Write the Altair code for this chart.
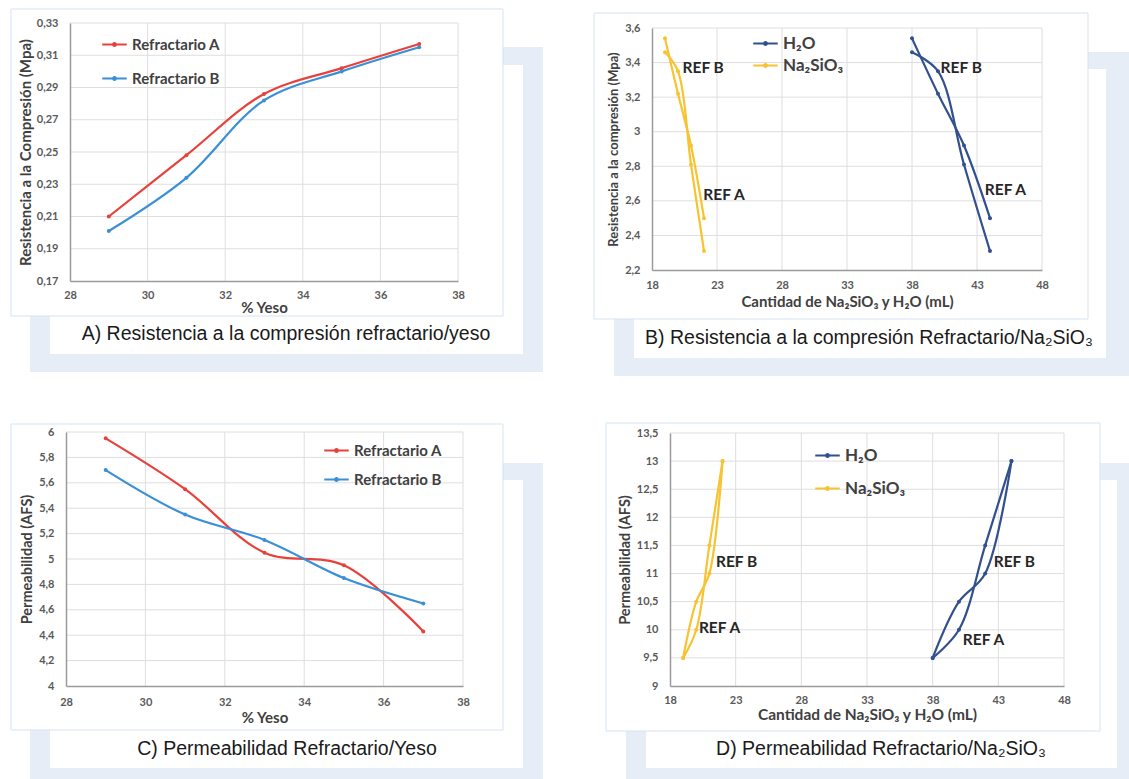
import altair as alt
import pandas as pd

# ---------------- values ----------------
yeso_pct = [29, 31, 33, 35, 37]
comp_refr_A = [0.210, 0.248, 0.286, 0.302, 0.317]
comp_refr_B = [0.201, 0.234, 0.282, 0.300, 0.315]
perm_refr_A = [5.95, 5.55, 5.05, 4.95, 4.43]
perm_refr_B = [5.70, 5.35, 5.15, 4.85, 4.65]

h2o_ml = [38, 40, 42, 44]
na2sio3_ml = [19, 20, 21, 22]
comp_REF_A = [3.54, 3.22, 2.92, 2.50]
comp_REF_B = [3.46, 3.35, 2.81, 2.31]
perm_REF_A = [9.5, 10.0, 11.5, 13.0]
perm_REF_B = [9.5, 10.5, 11.0, 13.0]

refr_series = ["Refractario A", "Refractario B"]
liquid_series = ["H₂O", "Na₂SiO₃"]
ref_names = ["REF A", "REF B"]

yeso_ticks = [28, 30, 32, 34, 36, 38]
ml_ticks = [18, 23, 28, 33, 38, 43, 48]
comp_yeso_ticks = [0.17, 0.19, 0.21, 0.23, 0.25, 0.27, 0.29, 0.31, 0.33]
comp_ml_ticks = [2.2, 2.4, 2.6, 2.8, 3.0, 3.2, 3.4, 3.6]
perm_yeso_ticks = [4.0, 4.2, 4.4, 4.6, 4.8, 5.0, 5.2, 5.4, 5.6, 5.8, 6.0]
perm_ml_ticks = [9.0, 9.5, 10.0, 10.5, 11.0, 11.5, 12.0, 12.5, 13.0, 13.5]

# in-plot annotations (text, x, y in data units)
comp_ml_notes = [("REF B", 20.35, 3.37), ("REF A", 21.95, 2.635),
                 ("REF B", 40.2, 3.37), ("REF A", 43.6, 2.66)]
perm_ml_notes = [("REF B", 21.5, 11.2), ("REF A", 20.2, 10.03),
                 ("REF B", 42.65, 11.21), ("REF A", 40.3, 9.82)]

captions = ["A) Resistencia a la compresión refractario/yeso",
            "B) Resistencia a la compresión Refractario/Na₂SiO₃",
            "C) Permeabilidad Refractario/Yeso",
            "D) Permeabilidad Refractario/Na₂SiO₃"]

# ---------------- layout / style ----------------
W, H = 1129, 779
FONT = "Lato"
CAP_FONT = "Liberation Sans"
GRID = "#dedede"
AXIS_COL = "#9b9b9b"
TXT = "#404040"
LBL_COL = "#595959"
DECO = "#e6edf7"
BOX_STROKE = "#d5e3f4"
RED, BLUE = "#e8413c", "#3b8fd6"
NAVY, GOLD = "#32508e", "#f8c331"
LBL = "replace(format(datum.value, '~g'), '.', ',')"
SYM = "M-1,0L1,0M-0.12,0A0.12,0.12,0,1,1,0.12,0A0.12,0.12,0,1,1,-0.12,0"

deco_outer = [(30, 47, 543, 372), (614, 52, 1129, 376), (30, 463, 543, 779), (626, 463, 1129, 779)]
deco_inner = [(50, 65, 523, 354), (634, 69, 1106, 358), (50, 480, 523, 768), (646, 480, 1117, 768)]
boxes = [(11, 9, 503, 316), (594, 13, 1088, 319), (11, 424, 503, 730), (606, 423, 1100, 731)]
caption_pos = [(286, 334), (869, 338), (287, 749), (881, 749)]

# ---------------- tables ----------------
def refr_table(vals_a, vals_b):
    rows = []
    for name, vals in zip(refr_series, [vals_a, vals_b]):
        for i, (x, y) in enumerate(zip(yeso_pct, vals)):
            rows.append({"x": x, "y": y, "series": name, "ref": name, "idx": i})
    return pd.DataFrame(rows)


def liquid_table(vals_a, vals_b):
    rows = []
    for name, xs in zip(liquid_series, [h2o_ml, na2sio3_ml]):
        for ref, vals in zip(ref_names, [vals_a, vals_b]):
            for i, (x, y) in enumerate(zip(xs, vals)):
                rows.append({"x": x, "y": y, "series": name, "ref": name + ref, "idx": i})
    return pd.DataFrame(rows)


def rect_table(rects, fill):
    return pd.DataFrame([{"x1": a, "y1": b, "x2": c, "y2": d, "fill": fill} for a, b, c, d in rects])


def panel(df, notes, xdom, xticks, ydom, yticks, px, py, xtitle, ytitle,
          cdom, crng, leg, xpads, ypads, xtsize, ytsize, legsize):
    xs = alt.Scale(domain=xdom, range=list(px), nice=False, zero=False)
    ys = alt.Scale(domain=ydom, range=list(py), nice=False, zero=False)
    common = dict(grid=False, ticks=False, tickSize=0, labelExpr=LBL, labelFlush=False,
                  labelOverlap=False, labelFont=FONT, labelFontSize=11, labelFontWeight="bold",
                  labelColor=LBL_COL, titleFont=FONT, titleFontWeight="bold", titleColor=TXT,
                  domainColor=AXIS_COL, domainWidth=1.5, zindex=1)
    xaxis = alt.Axis(orient="bottom", offset=py[0] - H, values=xticks, title=xtitle,
                     labelPadding=xpads[0], titlePadding=xpads[1], titleFontSize=xtsize, **common)
    yaxis = alt.Axis(orient="left", offset=-px[0], values=yticks, title=ytitle,
                     labelPadding=ypads[0], titlePadding=ypads[1], titleFontSize=ytsize, **common)

    # grid lines (drawn as rules so they sit above the white panel boxes)
    vgrid = alt.Chart(pd.DataFrame({"v": xticks[1:]})).mark_rule(color=GRID, strokeWidth=1).encode(
        x=alt.X("v:Q", scale=xs),
        y=alt.YDatum(ydom[0], scale=ys), y2=alt.Y2Datum(ydom[1]))
    hgrid = alt.Chart(pd.DataFrame({"v": yticks[1:]})).mark_rule(color=GRID, strokeWidth=1).encode(
        y=alt.Y("v:Q", scale=ys),
        x=alt.XDatum(xdom[0], scale=xs), x2=alt.X2Datum(xdom[1]))

    color_scale = alt.Scale(domain=cdom, range=crng)
    lines = alt.Chart(df).mark_line(strokeWidth=2.2, interpolate="catmull-rom").encode(
        x=alt.X("x:Q", scale=xs, axis=xaxis),
        y=alt.Y("y:Q", scale=ys, axis=yaxis),
        color=alt.Color("series:N", scale=color_scale, legend=alt.Legend(
            title=None, orient="none", legendX=leg[0], legendY=leg[1], direction="vertical",
            symbolType=SYM, symbolSize=600, symbolStrokeWidth=2, rowPadding=leg[2], padding=0,
            labelFont=FONT, labelFontSize=legsize, labelFontWeight="bold", labelColor=TXT,
            labelOffset=4, zindex=1)),
        detail="ref:N", order="idx:Q")
    points = alt.Chart(df).mark_circle(size=16, opacity=1).encode(
        x=alt.X("x:Q", scale=xs), y=alt.Y("y:Q", scale=ys),
        color=alt.Color("series:N", scale=color_scale, legend=None))
    layers = [vgrid, hgrid, lines, points]
    if notes:
        ndf = pd.DataFrame([{"t": t, "x": x, "y": y} for t, x, y in notes])
        layers.append(alt.Chart(ndf).mark_text(align="left", baseline="middle", font=FONT,
                                               fontSize=15.5, fontWeight="bold", color="#262626").encode(
            x=alt.X("x:Q", scale=xs), y=alt.Y("y:Q", scale=ys), text="t:N"))
    return alt.layer(*layers)


pA = panel(refr_table(comp_refr_A, comp_refr_B), None, [28, 38], yeso_ticks, [0.17, 0.33], comp_yeso_ticks,
           (70, 458), (281, 23), "% Yeso", "Resistencia a la Compresión (Mpa)",
           refr_series, [RED, BLUE], (101, 31, 12), (8, 0), (12, 3), 15, 15, 15)
pB = panel(liquid_table(comp_REF_A, comp_REF_B), comp_ml_notes, [18, 48], ml_ticks, [2.2, 3.6], comp_ml_ticks,
           (652, 1042), (270, 28), "Cantidad de Na₂SiO₃ y H₂O (mL)", "Resistencia a la compresión (Mpa)",
           liquid_series, [NAVY, GOLD], (752, 30, 0), (9, 4), (12, 4), 15, 13, 17)
pC = panel(refr_table(perm_refr_A, perm_refr_B), None, [28, 38], yeso_ticks, [4, 6], perm_yeso_ticks,
           (66, 463), (686, 432), "% Yeso", "Permeabilidad (AFS)",
           refr_series, [RED, BLUE], (323, 437, 7), (10, 3), (12, 4), 15, 14.5, 15)
pD = panel(liquid_table(perm_REF_A, perm_REF_B), perm_ml_notes, [18, 48], ml_ticks, [9, 13.5], perm_ml_ticks,
           (670, 1064), (686, 433), "Cantidad de Na₂SiO₃ y H₂O (mL)", "Permeabilidad (AFS)",
           liquid_series, [NAVY, GOLD], (814, 442, 11), (8, 2), (12, 4), 15.5, 14.5, 17)

deco_df = pd.concat([rect_table(deco_outer, DECO), rect_table(deco_inner, "white")], ignore_index=True)
deco = alt.Chart(deco_df).mark_rect().encode(
    x=alt.X("x1:Q", scale=None, axis=None), x2="x2:Q",
    y=alt.Y("y1:Q", scale=None, axis=None), y2="y2:Q",
    fill=alt.Fill("fill:N", scale=None, legend=None))
box_layer = alt.Chart(rect_table(boxes, "white")).mark_rect(
    fill="white", stroke=BOX_STROKE, strokeWidth=1).encode(
    x=alt.X("x1:Q", scale=None, axis=None), x2="x2:Q",
    y=alt.Y("y1:Q", scale=None, axis=None), y2="y2:Q")
cap_df = pd.DataFrame([{"t": t, "x": p[0], "y": p[1]} for t, p in zip(captions, caption_pos)])
cap_layer = alt.Chart(cap_df).mark_text(font=CAP_FONT, fontSize=19.5, color="#1a1a1a",
                                        align="center", baseline="middle").encode(
    x=alt.X("x:Q", scale=None, axis=None), y=alt.Y("y:Q", scale=None, axis=None), text="t:N")

chart = alt.layer(deco, box_layer, pA, pB, pC, pD, cap_layer).resolve_scale(
    x="independent", y="independent", color="independent"
).properties(
    width=W, height=H, padding=0, background="white",
    autosize=alt.AutoSizeParams(type="none")
).configure_view(stroke=None)

chart.save("out.html", embed_options={"renderer": "svg", "actions": False})
